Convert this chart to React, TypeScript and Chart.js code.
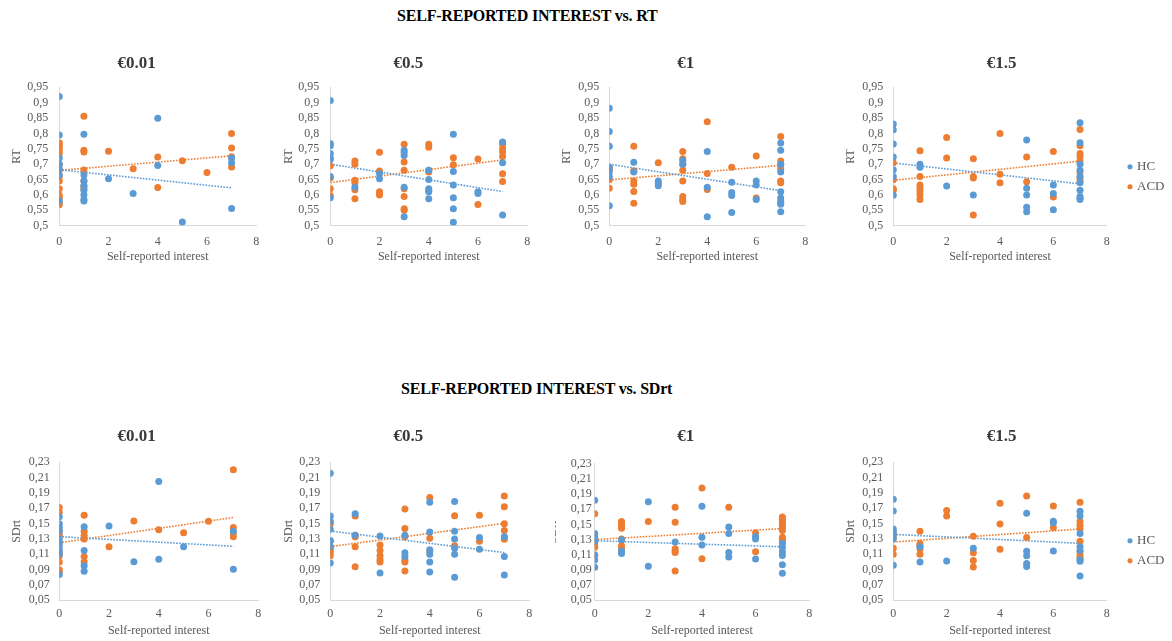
import { useEffect, useRef } from 'react';
import { Chart, registerables } from 'chart.js';

Chart.register(...registerables);

// ---------- colours & fonts ----------
const HC_COLOR = '#5B9BD5';
const ACD_COLOR = '#ED7D31';
const SERIF = "'Liberation Serif', 'Times New Roman', serif";
const TITLE_SIZE = 17;
const AXIS_SIZE = 12;

// ---------- axis ticks ----------
const xTickValues = [0, 2, 4, 6, 8];
const rtTickValues = [0.5, 0.55, 0.6, 0.65, 0.7, 0.75, 0.8, 0.85, 0.9, 0.95];
const rtTickLabels = ['0,5', '0,55', '0,6', '0,65', '0,7', '0,75', '0,8', '0,85', '0,9', '0,95'];
const sdTickValues = [0.05, 0.07, 0.09, 0.11, 0.13, 0.15, 0.17, 0.19, 0.21, 0.23];
const sdTickLabels = ['0,05', '0,07', '0,09', '0,11', '0,13', '0,15', '0,17', '0,19', '0,21', '0,23'];
const trendX = [0, 7];

const seriesNames = ['HC', 'ACD'];
const rewardTitles = ['€0.01', '€0.5', '€1', '€1.5'];

// ---------- RT data [interest, RT] ----------
const rtHC_001: [number, number][] = [
  [0, 0.92], [0, 0.795], [0, 0.72], [0, 0.7], [0, 0.685], [0, 0.665], [0, 0.58],
  [1, 0.797], [1, 0.665], [1, 0.645], [1, 0.63], [1, 0.615], [1, 0.6], [1, 0.585], [1, 0.58],
  [2, 0.653], [3, 0.605], [4, 0.849], [4, 0.696], [5, 0.512], [7, 0.72], [7, 0.705], [7, 0.556],
];
const rtACD_001: [number, number][] = [
  [0, 0.77], [0, 0.762], [0, 0.755], [0, 0.745], [0, 0.735], [0, 0.7], [0, 0.68], [0, 0.66],
  [0, 0.645], [0, 0.62], [0, 0.6], [0, 0.59], [0, 0.575], [0, 0.568],
  [1, 0.856], [1, 0.745], [1, 0.74], [1, 0.681], [1, 0.645], [1, 0.628], [1, 0.62],
  [2, 0.742], [3, 0.685], [4, 0.723], [4, 0.624], [5, 0.711], [6, 0.673],
  [7, 0.8], [7, 0.753], [7, 0.724], [7, 0.691],
];
const rtHC_001_trend = [0.682, 0.623];
const rtACD_001_trend = [0.68, 0.727];

const rtHC_05: [number, number][] = [
  [0, 0.907], [0, 0.767], [0, 0.76], [0, 0.735], [0, 0.72], [0, 0.715], [0, 0.66], [0, 0.591],
  [1, 0.625], [2, 0.67], [2, 0.653],
  [3, 0.745], [3, 0.738], [3, 0.728], [3, 0.625], [3, 0.529],
  [4, 0.68], [4, 0.65], [4, 0.62], [4, 0.615], [4, 0.61], [4, 0.588],
  [5, 0.797], [5, 0.676], [5, 0.632], [5, 0.591], [5, 0.555], [5, 0.511],
  [6, 0.61], [6, 0.605], [7, 0.772], [7, 0.705], [7, 0.535],
];
const rtACD_05: [number, number][] = [
  [0, 0.695], [0, 0.655], [0, 0.62], [0, 0.598],
  [1, 0.71], [1, 0.7], [1, 0.648], [1, 0.64], [1, 0.617], [1, 0.588],
  [2, 0.739], [2, 0.678], [2, 0.61], [2, 0.605], [2, 0.6],
  [3, 0.765], [3, 0.707], [3, 0.68], [3, 0.62], [3, 0.595], [3, 0.555], [3, 0.55],
  [4, 0.765], [4, 0.755], [4, 0.68], [4, 0.675], [5, 0.721], [5, 0.698], [6, 0.717], [6, 0.569],
  [7, 0.765], [7, 0.75], [7, 0.74], [7, 0.725], [7, 0.669], [7, 0.644],
];
const rtHC_05_trend = [0.7, 0.611];
const rtACD_05_trend = [0.64, 0.714];

const rtHC_1: [number, number][] = [
  [0, 0.882], [0, 0.806], [0, 0.758], [0, 0.69], [0, 0.675], [0, 0.66], [0, 0.565],
  [1, 0.706], [1, 0.675], [2, 0.645], [2, 0.637], [2, 0.63], [3, 0.712], [3, 0.7],
  [4, 0.741], [4, 0.625], [4, 0.529], [5, 0.641], [5, 0.608], [5, 0.598], [5, 0.543],
  [6, 0.645], [6, 0.632], [6, 0.585],
  [7, 0.769], [7, 0.745], [7, 0.7], [7, 0.675], [7, 0.61], [7, 0.59], [7, 0.58], [7, 0.575], [7, 0.57], [7, 0.545],
];
const rtACD_1: [number, number][] = [
  [0, 0.687], [0, 0.68], [0, 0.649], [0, 0.622],
  [1, 0.758], [1, 0.678], [1, 0.645], [1, 0.635], [1, 0.611], [1, 0.573], [2, 0.705],
  [3, 0.741], [3, 0.718], [3, 0.7], [3, 0.68], [3, 0.645], [3, 0.595], [3, 0.585], [3, 0.579],
  [4, 0.838], [4, 0.67], [4, 0.618], [5, 0.69], [6, 0.727], [6, 0.59],
  [7, 0.79], [7, 0.71], [7, 0.7], [7, 0.685], [7, 0.645], [7, 0.64],
];
const rtHC_1_trend = [0.7, 0.614];
const rtACD_1_trend = [0.649, 0.696];

const rtHC_15: [number, number][] = [
  [0, 0.831], [0, 0.812], [0, 0.766], [0, 0.723], [0, 0.682], [0, 0.66], [0, 0.599],
  [1, 0.7], [1, 0.69], [2, 0.629], [3, 0.6],
  [5, 0.779], [5, 0.622], [5, 0.6], [5, 0.56], [5, 0.545], [6, 0.632], [6, 0.605], [6, 0.552],
  [7, 0.835], [7, 0.77], [7, 0.7], [7, 0.68], [7, 0.66], [7, 0.64], [7, 0.615], [7, 0.595], [7, 0.59], [7, 0.585],
];
const rtACD_15: [number, number][] = [
  [0, 0.705], [0, 0.649], [0, 0.62], [0, 0.615],
  [1, 0.744], [1, 0.66], [1, 0.632], [1, 0.62], [1, 0.61], [1, 0.6], [1, 0.585],
  [2, 0.787], [2, 0.72], [3, 0.718], [3, 0.66], [3, 0.655], [3, 0.535],
  [4, 0.8], [4, 0.667], [4, 0.64], [5, 0.723], [5, 0.643], [6, 0.741], [6, 0.593],
  [7, 0.813], [7, 0.76], [7, 0.735], [7, 0.725], [7, 0.71], [7, 0.675], [7, 0.655], [7, 0.645],
];
const rtHC_15_trend = [0.704, 0.636];
const rtACD_15_trend = [0.6475, 0.71];

// ---------- SDrt data [interest, SDrt] ----------
const sdHC_001: [number, number][] = [
  [0, 0.159], [0, 0.15], [0, 0.145], [0, 0.14], [0, 0.13], [0, 0.125], [0, 0.12], [0, 0.115], [0, 0.11], [0, 0.0835],
  [1, 0.146], [1, 0.115], [1, 0.095], [1, 0.088], [2, 0.147], [3, 0.1004],
  [4, 0.205], [4, 0.1035], [5, 0.12], [7, 0.14], [7, 0.0904],
];
const sdACD_001: [number, number][] = [
  [0, 0.171], [0, 0.165], [0, 0.14], [0, 0.135], [0, 0.125], [0, 0.112], [0, 0.108], [0, 0.1], [0, 0.09], [0, 0.087],
  [1, 0.161], [1, 0.14], [1, 0.135], [1, 0.13], [1, 0.107], [1, 0.1],
  [2, 0.12], [3, 0.1535], [4, 0.142], [5, 0.138], [6, 0.153],
  [7, 0.2204], [7, 0.145], [7, 0.138], [7, 0.133],
];
const sdHC_001_trend = [0.133, 0.1204];
const sdACD_001_trend = [0.125, 0.158];

const sdHC_05: [number, number][] = [
  [0, 0.2157], [0, 0.16], [0, 0.153], [0, 0.1426], [0, 0.128], [0, 0.127], [0, 0.12], [0, 0.0987],
  [1, 0.163], [1, 0.135], [2, 0.134], [2, 0.0857], [3, 0.135], [3, 0.112], [3, 0.107],
  [4, 0.178], [4, 0.139], [4, 0.116], [4, 0.11], [4, 0.1], [4, 0.087],
  [5, 0.179], [5, 0.14], [5, 0.13], [5, 0.118], [5, 0.11], [5, 0.08],
  [6, 0.132], [6, 0.1165], [7, 0.133], [7, 0.107], [7, 0.083],
];
const sdACD_05: [number, number][] = [
  [0, 0.15], [0, 0.12], [0, 0.117], [0, 0.113], [0, 0.108],
  [1, 0.16], [1, 0.135], [1, 0.133], [1, 0.12], [1, 0.0939],
  [2, 0.122], [2, 0.115], [2, 0.108], [2, 0.103], [2, 0.1],
  [3, 0.169], [3, 0.1435], [3, 0.133], [3, 0.103], [3, 0.1], [3, 0.0883],
  [4, 0.184], [4, 0.131], [4, 0.114], [5, 0.1604], [5, 0.121], [6, 0.161], [6, 0.127],
  [7, 0.186], [7, 0.172], [7, 0.15], [7, 0.141], [7, 0.1296],
];
const sdHC_05_trend = [0.1404, 0.1122];
const sdACD_05_trend = [0.12, 0.1504];

const sdHC_1: [number, number][] = [
  [0, 0.182], [0, 0.138], [0, 0.133], [0, 0.128], [0, 0.11], [0, 0.103], [0, 0.0937],
  [1, 0.1118], [1, 0.115], [1, 0.13], [2, 0.18], [2, 0.095], [3, 0.127],
  [4, 0.174], [4, 0.133], [4, 0.123], [5, 0.1466], [5, 0.138], [5, 0.113], [5, 0.107],
  [6, 0.134], [6, 0.131], [6, 0.1043],
  [7, 0.125], [7, 0.12], [7, 0.114], [7, 0.109], [7, 0.097], [7, 0.0857],
];
const sdACD_1: [number, number][] = [
  [0, 0.164], [0, 0.125], [0, 0.12], [0, 0.109],
  [1, 0.154], [1, 0.15], [1, 0.147], [1, 0.145], [1, 0.131], [1, 0.13], [1, 0.122], [1, 0.118],
  [2, 0.154], [3, 0.1726], [3, 0.1528], [3, 0.118], [3, 0.115], [3, 0.113], [3, 0.0888],
  [4, 0.198], [4, 0.1047], [5, 0.1726], [6, 0.139], [6, 0.114],
  [7, 0.16], [7, 0.157], [7, 0.153], [7, 0.149], [7, 0.146], [7, 0.142], [7, 0.133], [7, 0.13], [7, 0.127],
];
const sdHC_1_trend = [0.1285, 0.1206];
const sdACD_1_trend = [0.13, 0.1446];

const sdHC_15: [number, number][] = [
  [0, 0.1817], [0, 0.1665], [0, 0.143], [0, 0.14], [0, 0.135], [0, 0.13], [0, 0.0957],
  [1, 0.12], [1, 0.1], [2, 0.1013], [3, 0.118],
  [5, 0.1635], [5, 0.114], [5, 0.108], [5, 0.098], [5, 0.094], [6, 0.153], [6, 0.151], [6, 0.1143],
  [7, 0.166], [7, 0.16], [7, 0.137], [7, 0.12], [7, 0.115], [7, 0.103], [7, 0.101], [7, 0.0817],
];
const sdACD_15: [number, number][] = [
  [0, 0.137], [0, 0.132], [0, 0.118], [0, 0.11],
  [1, 0.14], [1, 0.124], [1, 0.121], [1, 0.117], [1, 0.11], [2, 0.167], [2, 0.16],
  [3, 0.1335], [3, 0.112], [3, 0.102], [3, 0.0935], [4, 0.1765], [4, 0.1496], [4, 0.1165],
  [5, 0.186], [5, 0.132], [6, 0.173], [6, 0.1448],
  [7, 0.178], [7, 0.153], [7, 0.148], [7, 0.143], [7, 0.127], [7, 0.113], [7, 0.108], [7, 0.105],
];
const sdHC_15_trend = [0.136, 0.1243];
const sdACD_15_trend = [0.126, 0.143];

// ---------- panel content ----------
type PanelData = {
  title: string; yTitle: string; hc: [number, number][]; acd: [number, number][];
  hcTrend: number[]; acdTrend: number[]; tickValues: number[]; tickLabels: string[];
};
const rtSet = { yTitle: 'RT', tickValues: rtTickValues, tickLabels: rtTickLabels };
const sdSet = { yTitle: 'SDrt', tickValues: sdTickValues, tickLabels: sdTickLabels };
const panels: PanelData[] = [
  { title: rewardTitles[0], hc: rtHC_001, acd: rtACD_001, hcTrend: rtHC_001_trend, acdTrend: rtACD_001_trend, ...rtSet },
  { title: rewardTitles[1], hc: rtHC_05, acd: rtACD_05, hcTrend: rtHC_05_trend, acdTrend: rtACD_05_trend, ...rtSet },
  { title: rewardTitles[2], hc: rtHC_1, acd: rtACD_1, hcTrend: rtHC_1_trend, acdTrend: rtACD_1_trend, ...rtSet },
  { title: rewardTitles[3], hc: rtHC_15, acd: rtACD_15, hcTrend: rtHC_15_trend, acdTrend: rtACD_15_trend, ...rtSet },
  { title: rewardTitles[0], hc: sdHC_001, acd: sdACD_001, hcTrend: sdHC_001_trend, acdTrend: sdACD_001_trend, ...sdSet },
  { title: rewardTitles[1], hc: sdHC_05, acd: sdACD_05, hcTrend: sdHC_05_trend, acdTrend: sdACD_05_trend, ...sdSet },
  { title: rewardTitles[2], hc: sdHC_1, acd: sdACD_1, hcTrend: sdHC_1_trend, acdTrend: sdACD_1_trend, ...sdSet },
  { title: rewardTitles[3], hc: sdHC_15, acd: sdACD_15, hcTrend: sdHC_15_trend, acdTrend: sdACD_15_trend, ...sdSet },
];

// ---------- layout (page pixels) ----------
type Geo = {
  ct: number; h: number; scaleLeft: number; L: number; R: number; T: number; B: number;
  titleX: number; titleY: number; yTitleX: number; yTickPad: number; xTickY: number; xTitleY: number;
  legendY?: number; legendX?: number;
};
const topRow = { ct: 50, h: 220, T: 87.3, B: 225.7, titleY: 63.8, xTickY: 241.7, xTitleY: 257.3 };
const botRow = { ct: 420, h: 221, T: 462.3, B: 600.3, titleY: 437, xTickY: 614.3, xTitleY: 630.7 };
const geos: Geo[] = [
  { ...topRow, scaleLeft: 7.5, L: 59.3, R: 262.3, titleX: 136.7, yTitleX: 16.7, yTickPad: 11 },
  { ...topRow, scaleLeft: 279.8, L: 330.3, R: 533.3, titleX: 408.3, yTitleX: 289, yTickPad: 11 },
  { ...topRow, scaleLeft: 557.5, L: 609.3, R: 811.7, titleX: 685.8, yTitleX: 566.7, yTickPad: 10 },
  { ...topRow, scaleLeft: 841.5, L: 893.3, R: 1106.7, titleX: 1001.7, yTitleX: 850.7, yTickPad: 10, legendY: 166.7, legendX: 1130 },
  { ...botRow, scaleLeft: 7.5, L: 59.3, R: 262.3, titleX: 136.7, yTitleX: 16.7, yTickPad: 9.5 },
  { ...botRow, scaleLeft: 279.8, L: 330.3, R: 533.3, titleX: 408.3, yTitleX: 289, yTickPad: 10 },
  { ...botRow, T: 463.8, scaleLeft: 555, L: 594.7, R: 814, titleX: 685.8, yTitleX: 553, yTickPad: 3 },
  { ...botRow, scaleLeft: 841.5, L: 893.3, R: 1106.7, titleX: 1001.7, yTitleX: 850.7, yTickPad: 10, legendY: 540.7, legendX: 1130 },
];

const LEGEND_W = 30;
const LEGEND_PAD = 7;
const LEGEND_FONT = 13;

const tweakPlugin = {
  id: 'panelTweak',
  afterLayout(chart: any, _args: any, opts: any) {
    const t = chart.titleBlock;
    if (t && opts.titleDx) {
      t.left += opts.titleDx;
      t.right += opts.titleDx;
    }
    const lg = chart.legend;
    if (lg && lg.options && lg.options.display && opts.legend) {
      lg.left += opts.legendDx;
      lg.right = lg.left + 70;
      lg.width = 70;
      lg.top += opts.legendDy;
      lg.bottom += opts.legendDy;
    }
  },
};

function toPts(arr: [number, number][]) {
  return arr.map(([x, y]) => ({ x, y }));
}

function Panel({ data, geo }: { data: PanelData; geo: Geo }) {
  const ref = useRef<HTMLCanvasElement | null>(null);
  const hasLegend = geo.legendY !== undefined;
  const CL = Math.floor(geo.scaleLeft);
  const padL = geo.scaleLeft - CL;
  const CR = hasLegend ? 1172 : Math.ceil(geo.R + 5);
  const padR = hasLegend ? CR - geo.R - LEGEND_W : CR - geo.R;
  const W = CR - CL;
  const H = geo.h;

  useEffect(() => {
    if (!ref.current) return;
    const titleLH = TITLE_SIZE * 1.2;
    const axisLH = AXIS_SIZE * 1.2;
    const pt = geo.titleY - geo.ct - titleLH / 2;
    const pb = geo.T - geo.ct - pt - titleLH;
    const xH = geo.ct + H - geo.B;
    const xTitlePb = geo.ct + H - geo.xTitleY - axisLH / 2;
    const yTitlePt = geo.yTitleX - geo.scaleLeft - axisLH / 2;
    const xTickPad = geo.xTickY - geo.B - axisLH / 2;
    const yW = geo.L - geo.scaleLeft;
    const titleDx = geo.titleX - (geo.scaleLeft + (CR - padR)) / 2;
    const legendDx = hasLegend ? (geo.legendX as number) - geo.R - LEGEND_PAD - 0.5 : 0;
    const legendDy = hasLegend ? (geo.legendY as number) - geo.ct - LEGEND_PAD - LEGEND_FONT / 2 : 0;

    const scatterStyle = (color: string) => ({
      backgroundColor: color,
      borderColor: color,
      borderWidth: 0,
      pointRadius: 3.5,
      pointHoverRadius: 3.5,
      pointStyle: 'circle' as const,
    });
    const trendStyle = (color: string) => ({
      showLine: true,
      borderColor: color,
      backgroundColor: color,
      borderWidth: 1.6,
      borderDash: [1.6, 1.4],
      pointRadius: 0,
      pointHoverRadius: 0,
      fill: false,
    });

    const chart = new Chart(ref.current, {
      type: 'scatter',
      data: {
        datasets: [
          { label: seriesNames[0], data: toPts(data.hc), ...scatterStyle(HC_COLOR) },
          { label: seriesNames[1], data: toPts(data.acd), ...scatterStyle(ACD_COLOR) },
          { label: seriesNames[0] + ' trend', data: trendX.map((x, i) => ({ x, y: data.hcTrend[i] })), ...trendStyle(HC_COLOR) },
          { label: seriesNames[1] + ' trend', data: trendX.map((x, i) => ({ x, y: data.acdTrend[i] })), ...trendStyle(ACD_COLOR) },
        ],
      },
      options: {
        responsive: false,
        animation: false,
        devicePixelRatio: 1,
        events: [],
        layout: { padding: { left: padL, right: padR, top: 0, bottom: 0 } },
        plugins: {
          tooltip: { enabled: false },
          title: {
            display: true,
            text: data.title,
            color: '#3a3a3a',
            font: { family: SERIF, size: TITLE_SIZE, weight: 'bold' },
            padding: { top: pt, bottom: pb },
          },
          legend: {
            display: hasLegend,
            position: 'right',
            align: 'start',
            maxWidth: LEGEND_W,
            labels: {
              usePointStyle: true,
              boxWidth: 1,
              boxHeight: 3.6,
              padding: LEGEND_PAD,
              color: '#595959',
              font: { family: SERIF, size: LEGEND_FONT },
              filter: (item: any) => !String(item.text).includes('trend'),
            },
          },
          panelTweak: { titleDx, legend: hasLegend, legendDx, legendDy },
        } as any,
        scales: {
          x: {
            type: 'linear',
            min: 0,
            max: 8,
            afterBuildTicks: (s: any) => { s.ticks = xTickValues.map((v) => ({ value: v })); },
            afterFit: (s: any) => { s.height = xH; },
            grid: { display: false, drawTicks: false },
            border: { display: true, color: '#d9d9d9', width: 1 },
            ticks: {
              padding: xTickPad,
              autoSkip: false,
              maxRotation: 0,
              color: '#595959',
              font: { family: SERIF, size: AXIS_SIZE },
              callback: (v: any) => String(v),
            },
            title: {
              display: true,
              text: 'Self-reported interest',
              color: '#595959',
              font: { family: SERIF, size: AXIS_SIZE },
              padding: { top: 0, bottom: xTitlePb },
            },
          },
          y: {
            type: 'linear',
            min: data.tickValues[0],
            max: data.tickValues[data.tickValues.length - 1],
            afterBuildTicks: (s: any) => { s.ticks = data.tickValues.map((v) => ({ value: v })); },
            afterFit: (s: any) => { s.width = yW; },
            grid: { display: false, drawTicks: false },
            border: { display: true, color: '#d9d9d9', width: 1 },
            ticks: {
              padding: geo.yTickPad,
              autoSkip: false,
              color: '#595959',
              font: { family: SERIF, size: AXIS_SIZE },
              callback: (_v: any, i: number) => data.tickLabels[i],
            },
            title: {
              display: true,
              text: data.yTitle,
              color: '#595959',
              font: { family: SERIF, size: AXIS_SIZE },
              padding: { top: yTitlePt, bottom: 0 },
            },
          },
        },
      },
      plugins: [tweakPlugin as any],
    });
    return () => chart.destroy();
  }, [data, geo]);

  return (
    <canvas
      ref={ref}
      width={W}
      height={H}
      style={{ position: 'absolute', left: CL, top: geo.ct, width: W, height: H }}
    />
  );
}

const sectionTitles = ['SELF-REPORTED INTEREST vs. RT', 'SELF-REPORTED INTEREST vs. SDrt'];
const sectionPos = [
  { left: 397, cy: 16 },
  { left: 401, cy: 389 },
];

export default function App() {
  return (
    <div
      style={{
        position: 'absolute', left: 0, top: 0, width: 1172, height: 641,
        overflow: 'hidden', background: '#ffffff',
      }}
    >
      {sectionTitles.map((t, i) => (
        <div
          key={t}
          style={{
            position: 'absolute', left: sectionPos[i].left, top: sectionPos[i].cy,
            transform: 'translateY(-50%)', whiteSpace: 'nowrap',
            fontFamily: SERIF, fontWeight: 'bold', fontSize: 16, lineHeight: 1,
            letterSpacing: -0.2, color: '#000000',
          }}
        >
          {t}
        </div>
      ))}
      {panels.map((p, i) => (
        <Panel key={i} data={p} geo={geos[i]} />
      ))}
    </div>
  );
}
